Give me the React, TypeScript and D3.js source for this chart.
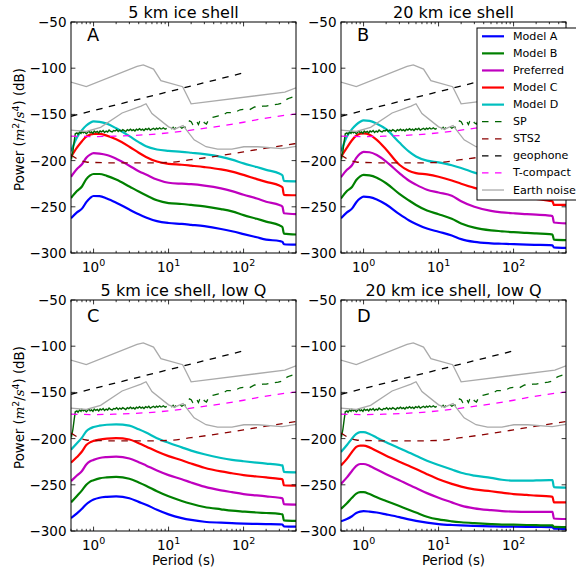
import React from "react";
import * as d3 from "d3";

// ---------- data ----------
const PERIOD = [0.5, 0.6, 0.7, 0.8, 0.9, 1, 1.2, 1.5, 2, 3, 4, 5, 7, 10, 15, 20, 30, 50, 70, 100, 150, 200, 300, 330, 345, 500];

const MODEL_NAMES = ["Model A", "Model B", "Preferred", "Model C", "Model D"];

// Panel A: 5 km ice shell
const A_MODEL_A = [-262.5, -256, -252, -245, -240.5, -238.3, -238.5, -241, -245.5, -253, -258, -261.5, -265.5, -267.5, -268.5, -269.5, -271, -274, -276.5, -279.5, -283, -285.5, -287, -288, -290.5, -291];
const A_MODEL_B = [-240.5, -233, -228, -220, -216, -214.5, -214.5, -216.5, -220.5, -228, -233.5, -237.5, -243, -246, -247, -248, -249.5, -252.5, -255, -259, -263, -266, -270, -272, -279, -280];
const A_PREF = [-217.5, -209, -204, -197, -193.5, -192, -192.5, -194, -198, -205.5, -211.5, -215, -220.5, -224, -225, -225.5, -227, -230, -233, -237, -241, -244.5, -248, -250, -257, -258];
const A_MODEL_C = [-196, -186, -179, -174, -172, -171, -171, -173, -177, -185, -191.5, -196, -201, -203.5, -204.5, -205.5, -207, -209.5, -212, -215.5, -220, -223, -227, -229, -237, -237.5];
const A_MODEL_D = [-190, -175, -167, -162, -159, -157.5, -158, -160, -165, -173.5, -180, -184.5, -188, -189.5, -190.5, -191.5, -193, -196, -199, -203, -207, -210, -214, -216, -222, -222.5];

// Panel B: 20 km ice shell
const B_MODEL_A = [-262.5, -256, -252, -245, -241, -239, -239.5, -242, -247.5, -258, -264.5, -268.5, -273.5, -277, -281, -285, -288, -289.5, -290, -290.5, -291, -291.2, -291.5, -291.7, -294, -294.5];
const B_MODEL_B = [-241, -233, -228.5, -221, -217, -215.5, -216, -218.5, -224.5, -236, -243, -248, -254, -258, -263, -268, -272.5, -275.5, -276.5, -277.5, -278.3, -278.8, -279.5, -280, -285.5, -286];
const B_PREF = [-218, -210, -205, -197, -192.5, -190.5, -191, -194, -201, -213.5, -221.5, -226, -231.5, -234.5, -238, -244, -250, -254.5, -256, -257, -258, -258.5, -259.5, -260, -267, -268];
const B_MODEL_C = [-196, -186, -178, -173, -171, -170.5, -172, -177.5, -188, -204.5, -211, -213.5, -215, -217.5, -221.5, -225, -229.5, -234, -236.5, -238.5, -240.5, -241.5, -243.5, -244, -248, -248];
const B_MODEL_D = [-190, -174, -166, -161, -158, -156.5, -157, -160, -166, -180.5, -190, -195.5, -200, -202, -205, -208, -213, -218, -221, -223, -225, -226, -227.5, -228, -234, -234.5];

// Panel C: 5 km ice shell, low Q
const C_MODEL_A = [-286, -281, -276, -271, -268, -266, -264, -263, -262.5, -264.5, -268.5, -271.5, -277, -282, -286, -288, -290, -291, -291.5, -292, -292.3, -292.5, -292.8, -293, -295, -295.3];
const C_MODEL_B = [-269, -262, -256, -250, -246.5, -245, -243, -242, -241.5, -243.5, -247.5, -251, -257, -262.5, -267.5, -270.5, -274, -276.5, -278, -279, -280, -280.5, -281.5, -282, -288.5, -289];
const C_PREF = [-246, -240, -235, -228, -224.5, -223, -221, -220, -219.5, -221.5, -225.5, -229, -234.5, -239.5, -244, -247.5, -252, -256, -258, -260, -261.5, -262.5, -264, -264.5, -271, -271.5];
const C_MODEL_C = [-226, -220, -214, -207, -204, -202.5, -201, -200, -199.5, -201, -205, -208.5, -214, -219, -223.5, -227, -231.5, -235.5, -237.5, -239.5, -241, -242, -243.5, -244, -250.5, -251];
const C_MODEL_D = [-212, -205, -199, -192, -189, -187.5, -186, -185, -184.5, -186, -190, -193.5, -199.5, -204.5, -209.5, -213, -217, -221, -223, -224.5, -226, -227, -228.5, -229, -236, -236.5];

// Panel D: 20 km ice shell, low Q
const D_MODEL_A = [-289.5, -287, -284, -280.5, -279, -278.5, -279, -280, -282, -285, -287.5, -289, -291, -292.5, -293.5, -294, -294.5, -295, -295.2, -295.3, -295.5, -295.6, -295.8, -295.8, -297.5, -297.7];
const D_MODEL_B = [-276, -270, -264, -259.5, -258, -258, -260, -263.5, -267.5, -273, -277, -280, -284.5, -287.5, -289.5, -290.5, -291.5, -292.5, -293, -293.2, -293.5, -293.7, -294, -294, -295.5, -295.7];
const D_PREF = [-249, -242, -235, -229.5, -227.5, -227.5, -229.5, -233.5, -238.5, -245, -250, -253.5, -259, -264, -269, -272.5, -275.5, -277.5, -278.5, -279, -279.3, -279.3, -279.3, -279.3, -286.5, -287];
const D_MODEL_C = [-229, -222, -214.5, -209, -207.5, -207.5, -209.5, -213.5, -218.5, -225, -229.5, -233, -238.5, -244, -249, -252, -255, -257, -258.5, -260, -261, -261.8, -262.5, -263, -269, -269];
const D_MODEL_D = [-214.5, -207, -200, -195, -193, -193, -195, -199, -204, -210.5, -215, -218.5, -224, -228.5, -233.5, -237, -240, -242.5, -244.5, -245.5, -245.5, -245.3, -245, -245, -252.5, -253];

// Instrument / noise curves (same in every panel)
const SP_P_SOLID = [0.5, 0.51, 0.53, 0.55, 0.57, 0.6, 0.62, 0.65, 0.68, 0.7, 0.73, 0.76, 0.8, 0.83, 0.87, 0.9, 0.94, 0.98, 1.02, 1.07, 1.12, 1.17, 1.22, 1.28, 1.34, 1.4, 1.47, 1.54, 1.61, 1.69, 1.77, 1.85, 1.94, 2.03, 2.13, 2.23, 2.34, 2.45, 2.57, 2.69, 2.82, 2.95, 3.1, 3.25, 3.4, 3.56, 3.73, 3.9, 4.1, 4.3, 4.5, 4.7, 4.95, 5.2, 5.45, 5.7, 6.0, 6.3, 6.6, 6.9, 7.2, 7.6, 8.0];
const SP_DB_SOLID = [-195, -197, -190, -180, -171, -170, -171.5, -169, -170.5, -168.5, -170, -169, -171, -169.5, -168, -170, -169, -170.5, -168, -169.5, -168.5, -170, -168, -169, -167.5, -169.5, -168, -169, -167, -168.5, -169, -167.5, -168, -166.5, -168.5, -167, -168, -166.5, -167.5, -168.5, -166.5, -167.5, -166, -167.5, -166.5, -168, -166, -167, -165.5, -167, -166, -167.5, -165.5, -166.5, -165, -167, -166, -165, -166.5, -165, -166, -164.5, -166];
const SP_P_DASH = [8, 8.5, 9, 9.5, 10, 10.5, 11, 11.5, 12, 12.5, 13, 13.5, 14, 14.5, 15, 16, 17, 18, 19, 20, 21, 22, 23, 24, 25, 26, 28, 30, 32, 34, 36, 40, 45, 50, 55, 60, 70, 80, 90, 100, 120, 140, 160, 180, 200, 230, 260, 290, 320, 350, 380, 420, 460, 500];
const SP_DB_DASH = [-166, -164.5, -166, -165, -166.5, -164.5, -165.5, -164, -166, -164.5, -165, -163.5, -165.5, -164, -165, -163.5, -164, -160, -157, -158, -161, -160.5, -157, -158.5, -161, -157.5, -155, -159, -160.5, -156, -154, -153, -152, -150, -150, -148, -148, -147, -145, -144.5, -145, -142, -142, -141, -141, -140, -139.5, -139, -138, -136, -133.5, -132, -131, -130];

const STS2_P = [0.5, 0.6, 0.7, 0.8, 1, 2, 5, 10, 20, 50, 100, 200, 500];
const STS2_DB = [-194, -198, -200.5, -201.5, -202, -202.5, -202.5, -202, -199, -194.5, -190.5, -186.5, -181.5];

const GEO_P = [0.5, 100];
const GEO_DB = [-152, -105];

const TC_P = [0.5, 1, 2, 5, 10, 20, 50, 100, 200, 500];
const TC_DB = [-173.5, -174, -173.5, -172, -170, -167, -162.5, -158.5, -154, -149.5];

const NHNM_P = [0.32, 0.8, 3.8, 4.6, 6.3, 7.9, 15.4, 20, 354.8, 500];
const NHNM_DB = [-110.5, -120, -98, -96.5, -101, -113.5, -120, -138.5, -126, -121.3];
const NLNM_P = [0.5, 0.8, 1.24, 2.4, 4.3, 5, 6, 10, 12, 15.6, 21.9, 31.6, 45, 70, 101, 154, 328, 500];
const NLNM_DB = [-167, -168.5, -164, -148.5, -141, -138.5, -149, -163.5, -166, -162, -177.5, -185, -187.5, -187.5, -185, -185, -187, -184.5];

const TITLES = ["5 km ice shell", "20 km ice shell", "5 km ice shell, low Q", "20 km ice shell, low Q"];
const LETTERS = ["A", "B", "C", "D"];
const Y_TICKS = [-300, -250, -200, -150, -100, -50];
const LEGEND_LABELS = ["Model A", "Model B", "Preferred", "Model C", "Model D", "SP", "STS2", "geophone", "T-compact", "Earth noise"];

// ---------- styles ----------
const MODEL_COLORS = ["#0000ff", "#008000", "#bf00bf", "#ff0000", "#00bfbf"];
const SP_COLOR = "#006400";
const STS2_COLOR = "#8b0000";
const GEO_COLOR = "#000000";
const TC_COLOR = "#ff00ff";
const NOISE_COLOR = "#aaaaaa";
const DASH = "6.5,6.5";
const FONT = "'DejaVu Sans', 'Bitstream Vera Sans', sans-serif";
const MODEL_W = 2.2;
const THIN_W = 1.3;

const PW = 225;
const PH = 231;
const ORIGINS: [number, number][] = [[71, 22], [341, 22], [71, 300], [341, 300]];
const LETTER_DY = [19, 19, 22, 22];

const PANEL_SERIES = [
  [A_MODEL_A, A_MODEL_B, A_PREF, A_MODEL_C, A_MODEL_D],
  [B_MODEL_A, B_MODEL_B, B_PREF, B_MODEL_C, B_MODEL_D],
  [C_MODEL_A, C_MODEL_B, C_PREF, C_MODEL_C, C_MODEL_D],
  [D_MODEL_A, D_MODEL_B, D_PREF, D_MODEL_C, D_MODEL_D],
];

const zip = (p: number[], v: number[]): [number, number][] => p.map((d, i) => [d, v[i]]);

function Panel({ idx }: { idx: number }) {
  const [x0, y0] = ORIGINS[idx];
  const x = d3.scaleLog().domain([0.5, 500]).range([x0, x0 + PW]);
  const y = d3.scaleLinear().domain([-300, -50]).range([y0 + PH, y0]);
  const lin = d3.line<[number, number]>().x((d) => x(d[0])).y((d) => y(d[1]));
  const smooth = d3.line<[number, number]>().x((d) => x(d[0])).y((d) => y(d[1])).curve(d3.curveMonotoneX);
  const clipId = `clip${idx}`;
  const ticks = x.ticks();
  const isMajor = (t: number) => Math.abs(Math.log10(t) - Math.round(Math.log10(t))) < 1e-6;
  const bottom = idx >= 2;
  const left = idx % 2 === 0;
  const series = PANEL_SERIES[idx];
  return (
    <g>
      <defs>
        <clipPath id={clipId}>
          <rect x={x0} y={y0} width={PW} height={PH} />
        </clipPath>
      </defs>
      <rect x={x0} y={y0} width={PW} height={PH} fill="#fff" />
      <g clipPath={`url(#${clipId})`} fill="none">
        {series.map((s, i) => (
          <path key={i} d={smooth(zip(PERIOD, s)) || ""} stroke={MODEL_COLORS[i]} strokeWidth={MODEL_W} strokeLinejoin="round" />
        ))}
        <path d={lin(zip(SP_P_SOLID, SP_DB_SOLID)) || ""} stroke={SP_COLOR} strokeWidth={1.4} />
        <path d={lin(zip(SP_P_DASH, SP_DB_DASH)) || ""} stroke={SP_COLOR} strokeWidth={THIN_W} strokeDasharray={DASH} />
        <path d={smooth(zip(STS2_P, STS2_DB)) || ""} stroke={STS2_COLOR} strokeWidth={THIN_W} strokeDasharray={DASH} />
        <path d={lin(zip(GEO_P, GEO_DB)) || ""} stroke={GEO_COLOR} strokeWidth={THIN_W} strokeDasharray={DASH} />
        <path d={smooth(zip(TC_P, TC_DB)) || ""} stroke={TC_COLOR} strokeWidth={THIN_W} strokeDasharray={DASH} />
        <path d={lin(zip(NHNM_P, NHNM_DB)) || ""} stroke={NOISE_COLOR} strokeWidth={THIN_W} />
        <path d={lin(zip(NLNM_P, NLNM_DB)) || ""} stroke={NOISE_COLOR} strokeWidth={THIN_W} />
      </g>
      {/* ticks */}
      <g stroke="#000" strokeWidth={0.8}>
        {Y_TICKS.map((t) => (
          <g key={t}>
            <line x1={x0} x2={x0 + 4.4} y1={y(t)} y2={y(t)} />
            <line x1={x0 + PW - 4.4} x2={x0 + PW} y1={y(t)} y2={y(t)} />
          </g>
        ))}
        {ticks.map((t, i) => {
          const len = isMajor(t) ? 4.4 : 2.2;
          return (
            <g key={i}>
              <line x1={x(t)} x2={x(t)} y1={y0 + PH} y2={y0 + PH - len} />
              <line x1={x(t)} x2={x(t)} y1={y0} y2={y0 + len} />
            </g>
          );
        })}
      </g>
      <rect x={x0} y={y0} width={PW} height={PH} fill="none" stroke="#000" strokeWidth={1} />
      {/* tick labels */}
      <g fontFamily={FONT} fontSize={13.5} fill="#000">
        {Y_TICKS.map((t) => (
          <text key={t} x={x0 - 4.5} y={y(t)} textAnchor="end" dominantBaseline="central">
            {"\u2212" + Math.abs(t)}
          </text>
        ))}
        {ticks.filter(isMajor).map((t) => (
          <text key={t} x={x(t)} y={y0 + PH + 18.5} textAnchor="middle">
            10
            <tspan fontSize={9.5} dy={-6}>{String(Math.round(Math.log10(t)))}</tspan>
          </text>
        ))}
      </g>
      <text x={x0 + PW / 2} y={y0 - 3.7} textAnchor="middle" fontFamily={FONT} fontSize={16}>
        {TITLES[idx]}
      </text>
      <text x={x0 + 16} y={y0 + LETTER_DY[idx]} fontFamily={FONT} fontSize={17.8}>
        {LETTERS[idx]}
      </text>
      {bottom && (
        <text x={x0 + PW / 2} y={564.5} textAnchor="middle" fontFamily={FONT} fontSize={13.3}>
          Period (s)
        </text>
      )}
      {left && (
        <text
          transform={`translate(24, ${y0 + PH / 2 - 8}) rotate(-90)`}
          textAnchor="middle"
          fontFamily={FONT}
          fontSize={13.3}
        >
          Power (<tspan fontStyle="italic" fontFamily="'DejaVu Serif', serif">m</tspan>
          <tspan fontSize={9.3} dy={-5}>2</tspan>
          <tspan dy={5}>/</tspan>
          <tspan fontStyle="italic" fontFamily="'DejaVu Serif', serif">s</tspan>
          <tspan fontSize={9.3} dy={-5}>4</tspan>
          <tspan dy={5}>) (dB)</tspan>
        </text>
      )}
    </g>
  );
}

function Legend() {
  const lx = 477;
  const ly = 28;
  const rowH = 17.08;
  const styles = [
    ...MODEL_COLORS.map((c) => ({ c, w: MODEL_W, dash: undefined as string | undefined })),
    { c: SP_COLOR, w: THIN_W, dash: DASH },
    { c: STS2_COLOR, w: THIN_W, dash: DASH },
    { c: GEO_COLOR, w: THIN_W, dash: DASH },
    { c: TC_COLOR, w: THIN_W, dash: DASH },
    { c: NOISE_COLOR, w: THIN_W, dash: undefined },
  ];
  return (
    <g>
      <rect x={lx} y={ly} width={120} height={172} fill="#fff" stroke="#000" strokeWidth={1} />
      {LEGEND_LABELS.map((lab, i) => {
        const cy = ly + 8.3 + i * rowH;
        const s = styles[i];
        return (
          <g key={lab}>
            <line x1={lx + 5} x2={lx + 27} y1={cy} y2={cy} stroke={s.c} strokeWidth={s.w} strokeDasharray={s.dash} />
            <text x={lx + 36} y={cy} dominantBaseline="central" fontFamily={FONT} fontSize={11.1}>
              {lab}
            </text>
          </g>
        );
      })}
    </g>
  );
}

export default function App() {
  return (
    <svg width={576} height={573} style={{ position: "absolute", left: 0, top: 0, background: "#fff" }}>
      <rect x={0} y={0} width={576} height={573} fill="#fff" />
      {[0, 1, 2, 3].map((i) => (
        <Panel key={i} idx={i} />
      ))}
      <Legend />
    </svg>
  );
}
